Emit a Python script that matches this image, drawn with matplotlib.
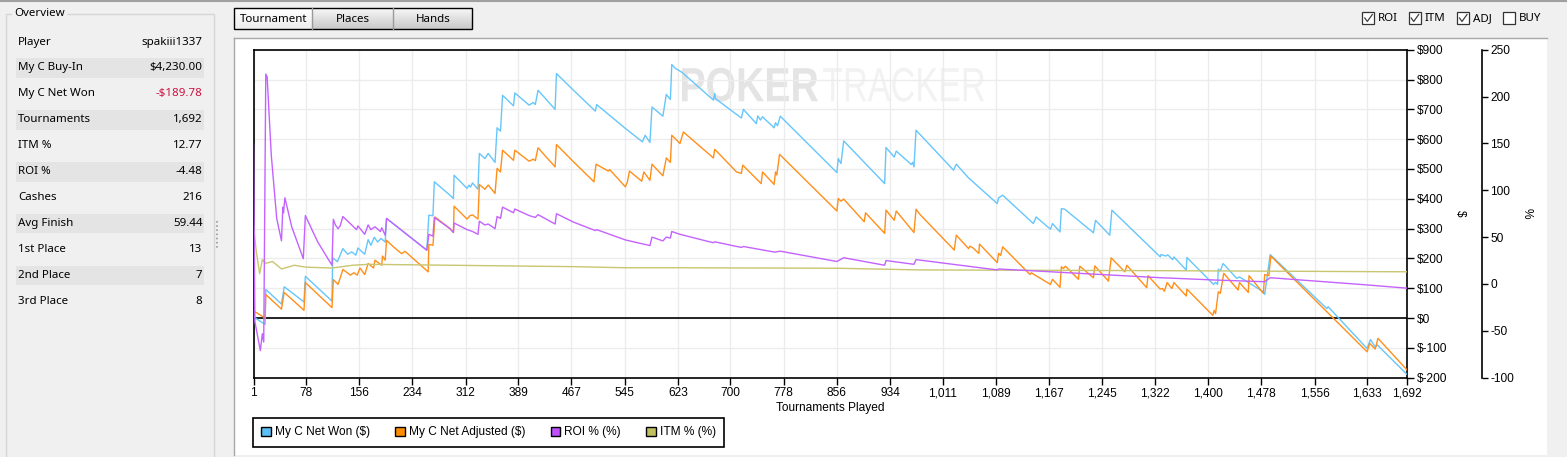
import numpy as np
import matplotlib.pyplot as plt
from matplotlib.patches import Rectangle, Patch, PathPatch
from matplotlib.lines import Line2D
from matplotlib.textpath import TextPath
from matplotlib.font_manager import FontProperties
from matplotlib.transforms import Affine2D

plt.rcParams['text.parse_math'] = False
plt.rcParams['axes.unicode_minus'] = False
plt.rcParams['font.family'] = ['Liberation Sans', 'DejaVu Sans']

W, H = 1567, 457

# Curves: tournament number -> value (turning points)
won_t = [1, 18, 19, 42, 46, 75, 77, 116, 117, 124,
         132, 139, 145, 151, 154, 164, 169, 173, 178, 183,
         188, 194, 196, 255, 258, 264, 266, 289, 294, 295,
         314, 317, 319, 322, 330, 332, 340, 345, 355, 358,
         363, 366, 382, 384, 405, 411, 414, 418, 443, 445,
         470, 502, 504, 546, 571, 575, 582, 585, 601, 606,
         612, 614, 619, 629, 675, 677, 678, 716, 719, 738,
         740, 744, 747, 764, 766, 769, 773, 856, 858, 862,
         866, 926, 928, 940, 943, 965, 967, 969, 972, 1027,
         1031, 1049, 1091, 1093, 1099, 1144, 1148, 1169, 1172, 1183,
         1185, 1190, 1232, 1235, 1256, 1259, 1330, 1331, 1338, 1341,
         1348, 1350, 1368, 1369, 1408, 1411, 1414, 1415, 1418, 1422,
         1442, 1446, 1481, 1483, 1491, 1574, 1576, 1633, 1638, 1645,
         1648, 1692]
won_v = [4, -21, 96, 47, 105, 54, 140, 57, 202, 189,
         233, 214, 222, 211, 235, 214, 263, 244, 271, 255,
         267, 255, 334, 228, 345, 343, 457, 412, 401, 479,
         435, 446, 439, 453, 432, 552, 535, 552, 522, 638,
         627, 747, 712, 755, 714, 723, 716, 764, 700, 820,
         764, 694, 716, 636, 591, 613, 589, 708, 677, 750,
         733, 850, 838, 824, 731, 753, 736, 671, 700, 652,
         678, 664, 675, 638, 655, 645, 677, 488, 535, 518,
         594, 451, 572, 540, 560, 515, 522, 507, 630, 496,
         516, 470, 384, 403, 412, 317, 339, 298, 317, 289,
         367, 365, 286, 328, 278, 362, 205, 213, 208, 212,
         196, 205, 161, 203, 113, 120, 113, 164, 158, 183,
         133, 138, 88, 79, 213, 32, 38, -102, -72, -97,
         -90, -190]

adj_t = [1, 18, 19, 42, 46, 75, 77, 116, 118, 125,
         132, 143, 148, 153, 157, 164, 169, 177, 179, 189,
         190, 194, 196, 206, 218, 223, 257, 258, 264, 267,
         289, 294, 295, 314, 318, 322, 330, 332, 340, 345,
         355, 358, 363, 366, 382, 384, 405, 411, 414, 418,
         443, 445, 470, 500, 503, 521, 523, 546, 549, 552,
         570, 573, 582, 585, 601, 606, 612, 614, 619, 626,
         631, 675, 677, 709, 716, 718, 745, 747, 764, 766,
         768, 772, 856, 858, 862, 866, 896, 898, 926, 928,
         940, 943, 969, 972, 978, 1028, 1031, 1049, 1051, 1055,
         1064, 1065, 1091, 1093, 1096, 1099, 1139, 1141, 1145, 1169,
         1172, 1183, 1185, 1188, 1191, 1210, 1212, 1232, 1234, 1254,
         1258, 1278, 1281, 1310, 1312, 1330, 1333, 1336, 1340, 1347,
         1350, 1368, 1369, 1407, 1409, 1411, 1415, 1418, 1423, 1444,
         1446, 1459, 1460, 1481, 1483, 1489, 1492, 1633, 1637, 1645,
         1649, 1692]
adj_v = [24, 0, 79, 30, 86, 26, 119, 35, 129, 113,
         163, 144, 152, 144, 168, 146, 183, 168, 194, 177,
         208, 194, 261, 239, 216, 224, 155, 247, 244, 339,
         300, 287, 375, 332, 343, 346, 332, 448, 432, 446,
         418, 502, 490, 563, 529, 563, 526, 533, 528, 571,
         507, 582, 524, 457, 516, 493, 498, 440, 457, 493,
         459, 490, 462, 516, 477, 537, 522, 613, 602, 585,
         624, 537, 566, 490, 485, 513, 451, 490, 448, 490,
         480, 549, 359, 401, 392, 399, 323, 353, 284, 362,
         328, 359, 287, 365, 347, 228, 278, 233, 241, 236,
         217, 248, 186, 217, 210, 239, 146, 152, 146, 113,
         130, 103, 172, 166, 174, 130, 174, 135, 175, 124,
         202, 155, 177, 102, 142, 97, 99, 90, 119, 99,
         119, 74, 97, 9, 26, 15, 88, 83, 150, 94,
         119, 86, 142, 83, 146, 142, 208, -113, -85, -104,
         -68, -175]

roi_t = [1, 3, 11, 14, 16, 19, 21, 27, 35, 42,
         44, 45, 47, 57, 74, 77, 95, 116, 118, 121,
         125, 128, 132, 152, 154, 164, 169, 173, 179, 187,
         189, 194, 196, 255, 258, 264, 266, 289, 294, 295,
         314, 322, 330, 332, 340, 345, 355, 358, 363, 366,
         382, 384, 405, 414, 418, 443, 445, 470, 502, 504,
         546, 582, 585, 601, 606, 612, 614, 626, 675, 677,
         716, 719, 765, 773, 856, 866, 926, 928, 969, 972,
         1091, 1093, 1330, 1408, 1483, 1491, 1633, 1692]
roi_v = [148, -40, -71, -53, -62, 224, 221, 138, 70, 46,
         82, 76, 92, 61, 27, 73, 45, 20, 69, 63,
         59, 62, 72, 58, 62, 53, 63, 58, 61, 56,
         60, 52, 70, 36, 53, 51, 71, 59, 55, 65,
         58, 56, 53, 67, 63, 64, 59, 72, 70, 82,
         76, 80, 73, 71, 74, 64, 75, 66, 57, 58,
         47, 41, 50, 46, 50, 49, 56, 53, 44, 45,
         39, 40, 34, 35, 24, 28, 20, 25, 21, 26,
         15, 16, 6.7, 4.3, 2.4, 6.7, -1, -4.5]

itm_t = [1, 5, 10, 14, 19, 29, 42, 61, 77, 116,
         146, 170, 289, 470, 546, 626, 856, 978, 1330, 1692]
itm_v = [63, 35, 11, 26, 22, 24, 16, 20, 18, 17,
         20, 21, 20, 18.5, 17.3, 17.3, 16.8, 15, 14.2, 13]

x_ticks = [1, 78, 156, 234, 312, 389, 467, 545, 623, 700, 778, 856,
           934, 1011, 1089, 1167, 1245, 1322, 1400, 1478, 1556, 1633, 1692]
usd_ticks = [-200, -100, 0, 100, 200, 300, 400, 500, 600, 700, 800, 900]
pct_ticks = [-100, -50, 0, 50, 100, 150, 200, 250]

overview_labels = ['Player', 'My C Buy-In', 'My C Net Won', 'Tournaments', 'ITM %',
                   'ROI %', 'Cashes', 'Avg Finish', '1st Place', '2nd Place', '3rd Place']
overview_values = ['spakiii1337', '$4,230.00', '-$189.78', '1,692', '12.77',
                   '-4.48', '216', '59.44', '13', '7', '8']
legend_labels = ['My C Net Won ($)', 'My C Net Adjusted ($)', 'ROI % (%)', 'ITM % (%)']
checkbox_labels = ['ROI', 'ITM', 'ADJ', 'BUY']
checkbox_states = [True, True, True, False]
tab_labels = ['Tournament', 'Places', 'Hands']

C_WON = '#66c6fb'
C_ADJ = '#ff8f1a'
C_ROI = '#c462ff'
C_ITM = '#c8c670'
LEG_COLORS = ['#5cbff7', '#ff8c00', '#c050ff', '#c0c060']

UI = ['Noto Sans', 'DejaVu Sans']
CH = ['Liberation Sans', 'DejaVu Sans']


def fx(px):
    return px / W


def fy(py):
    return 1 - py / H


fig = plt.figure(figsize=(W / 100, H / 100), dpi=100, facecolor='#f0f0f0')


def rect(x0, y0, x1, y1, **kw):
    kw.setdefault('zorder', 1)
    fig.add_artist(Rectangle((fx(x0), fy(y1)), (x1 - x0) / W, (y1 - y0) / H,
                             transform=fig.transFigure, **kw))


def line(xs, ys, **kw):
    fig.add_artist(Line2D([fx(v) for v in xs], [fy(v) for v in ys],
                          transform=fig.transFigure, **kw))


def gradient(x0, y0, x1, y1, top, bottom):
    a = fig.add_axes([fx(x0), fy(y1), (x1 - x0) / W, (y1 - y0) / H], zorder=-5)
    a.axis('off')
    k = np.linspace(0, 1, 24)[:, None, None]
    a.imshow((1 - k) * np.array(top) + k * np.array(bottom), aspect='auto',
             extent=(0, 1, 0, 1))


# window chrome
line([0, W], [0.6, 0.6], color='#a0a0a0', lw=1.5)
rect(233.5, 37.5, 1547, 455, facecolor='white', edgecolor='none', zorder=-10)
line([233.5, 1547], [37.5, 37.5], color='#a8a8a8', lw=1)
line([233.5, 233.5], [37.5, 455], color='#a8a8a8', lw=1)

# overview group
rect(5.5, 13.5, 214, 470, facecolor='none', edgecolor='#d5d5d5', lw=1)
fig.text(fx(14), fy(14), 'Overview', ha='left', va='center', fontsize=8.3,
         family=UI, bbox=dict(facecolor='#f0f0f0', edgecolor='none', pad=1.5))
for i, (lab, val) in enumerate(zip(overview_labels, overview_values)):
    y = 42 + 25.97 * i
    if i % 2 == 1:
        rect(16, y - 9.7, 204, y + 9.7, facecolor='#e4e4e4', edgecolor='none')
    fig.text(fx(18.3), fy(y), lab, ha='left', va='center', fontsize=8.3, family=UI)
    fig.text(fx(202.5), fy(y), val, ha='right', va='center', fontsize=8.3, family=UI,
             color='#cc1040' if val.startswith('-$') else 'black')
line([216.7, 216.7], [221, 248.5], color='#9a9a9a', lw=1.2, ls=(0, (1, 1.5)))

# tabs
gradient(234, 8, 312, 29, (1.0, 1.0, 1.0), (0.93, 0.93, 0.93))
gradient(312, 8, 472, 29, (0.97, 0.97, 0.97), (0.79, 0.79, 0.79))
rect(234, 8, 472, 29, facecolor='none', edgecolor='black', lw=1)
line([312.3, 312.3], [8, 29], color='#9a9a9a', lw=1)
line([392.7, 392.7], [8, 29], color='#9a9a9a', lw=1)
for lab, cx in zip(tab_labels, [273.3, 352.7, 433.3]):
    fig.text(fx(cx), fy(19), lab, ha='center', va='center', fontsize=8.3, family=UI)

# check boxes
for lab, on, bx in zip(checkbox_labels, checkbox_states, [1362.3, 1408.7, 1457, 1503.3]):
    rect(bx, 12.3, bx + 12, 24.3, facecolor='white', edgecolor='#333333', lw=0.9)
    if on:
        line([bx + 2.5, bx + 5, bx + 10], [18, 21.5, 14.5], color='#404040', lw=0.9)
    fig.text(fx(bx + 16), fy(18.5), lab, ha='left', va='center', fontsize=8.3, family=UI)

# watermark
for word, x0, x1, col, wt in [('POKER', 682, 818, '#e4e4e4', 'bold'),
                              ('TRACKER', 823, 984, '#f2f2f2', 'normal')]:
    tp = TextPath((0, 0), word, size=40, prop=FontProperties(family=CH, weight=wt))
    ext = tp.get_extents()
    sx = (x1 - x0) / ext.width
    sy = (101.7 - 67.7) / ext.height
    tr = (Affine2D().translate(-ext.x0, -ext.y0).scale(sx, sy)
          .translate(x0, H - 101.7))
    fig.add_artist(PathPatch(tp, transform=tr, facecolor=col, edgecolor='none',
                             zorder=-1))

# chart
ax = fig.add_axes([fx(253.5), fy(377.7), (1407.3 - 253.5) / W, (377.7 - 49.7) / H])
ax.patch.set_visible(False)
ax.plot(won_t, won_v, color=C_WON, lw=1.0, zorder=3)
ax.plot(adj_t, adj_v, color=C_ADJ, lw=1.0, zorder=3)
ax.axhline(0, color='black', lw=1.2, zorder=2)
ax.set_xlim(1, 1692)
ax.set_ylim(-200, 900)
ax.set_xticks(x_ticks)
ax.set_xticklabels([f'{v:,}' for v in x_ticks])
ax.set_yticks(usd_ticks)
ax.set_yticklabels([f'${v}' for v in usd_ticks])
ax.grid(True, color='#ececec', lw=1.0)
ax.set_axisbelow(True)
for s in ax.spines.values():
    s.set_linewidth(1.2)
    s.set_color('black')
ax.set_xlabel('Tournaments Played', fontsize=8.6)
ax.xaxis.set_label_coords(0.5, -(408 - 377.7) / 328)
ax.xaxis.label.set_verticalalignment('center')

ax2 = ax.twinx()
ax2.plot(itm_t, itm_v, color=C_ITM, lw=1.0)
ax2.plot(roi_t, roi_v, color=C_ROI, lw=1.0)
ax2.set_ylim(-100, 250)
ax2.set_yticks(pct_ticks)
for k in ['top', 'bottom', 'left']:
    ax2.spines[k].set_visible(False)
ax2.spines['right'].set_position(('axes', (1482 - 253.5) / 1153.8))
ax2.spines['right'].set_linewidth(1.2)
ax2.tick_params(direction='out', length=4, width=1, labelsize=8.6, pad=2)
ax2.set_ylabel('%', fontsize=8.6, rotation=270)
ax2.yaxis.set_label_coords((1527 - 253.5) / 1153.8, 0.5)
ax2.yaxis.label.set_verticalalignment('center')

# twinx moves the first axis' ticks back to the left
ax.yaxis.tick_right()
ax.tick_params(direction='out', length=5, width=1, labelsize=8.6, pad=2)
ax.set_ylabel('$', fontsize=8.6, rotation=270)
ax.yaxis.set_label_position('right')
ax.yaxis.set_label_coords((1460 - 253.5) / 1153.8, 0.5)
ax.yaxis.label.set_verticalalignment('center')

handles = [Patch(facecolor=c, edgecolor='black', linewidth=1.0) for c in LEG_COLORS]
leg = fig.legend(handles, legend_labels, loc='upper left',
                 bbox_to_anchor=(fx(253), fy(418)), bbox_transform=fig.transFigure,
                 ncol=4, fancybox=False, edgecolor='black', framealpha=1,
                 borderaxespad=0, borderpad=0.7, handlelength=0.8, handleheight=0.8,
                 handletextpad=0.35, columnspacing=2.1,
                 prop=FontProperties(family=CH, size=8.6))
leg.get_frame().set_linewidth(1.2)

fig.savefig('out.png', dpi=100, facecolor=fig.get_facecolor())
